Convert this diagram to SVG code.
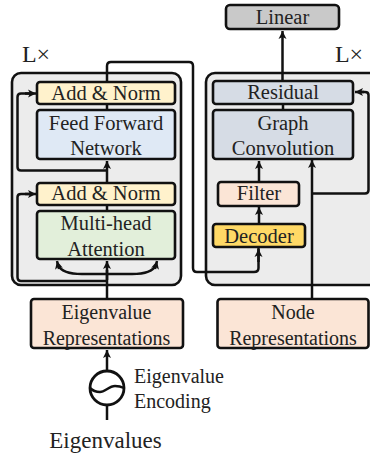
<svg xmlns="http://www.w3.org/2000/svg" width="370" height="453" viewBox="0 0 370 453">
<style>
text{font-family:"Liberation Serif","Times New Roman",serif;font-size:20.500px;fill:#222;text-anchor:middle}
.b{stroke:#111;stroke-width:2.6px}
.c{fill:none;stroke:#111;stroke-width:2.500px;stroke-linejoin:round}
.a{marker-end:url(#h)}
.y{fill:#fff2cc}.bl{fill:#dfe9f5}.g{fill:#e2efda}.p{fill:#fbe5d6}.s{fill:#d6dce5}
.t{text-anchor:start;font-size:20px}.l{font-size:24px}
</style>
<defs><marker id="h" markerUnits="userSpaceOnUse" markerWidth="10" markerHeight="10" refX="8" refY="5" orient="auto"><path d="M0 1L8 5L0 9L2 5Z" fill="#111"/></marker></defs>
<g id="frame-left"><rect x="12" y="73" width="169" height="212" rx="9" fill="#ececec" class="b"/></g>
<g id="frame-right"><rect x="206" y="73" width="176" height="212" rx="9" fill="#ececec" class="b"/></g>
<g id="connectors">
<path class="c" d="M107 82V66Q107 62 111 62H189Q193 62 193 66V268Q193 272 197 272H254Q258.500 272 258.500 268V248"/>
<path class="c a" d="M258.500 262V249"/>
<path class="c a" d="M107 183V161"/>
<path class="c" d="M107 170.500H21Q17.500 170.500 17.500 167V97Q17.500 93.500 21 93.500H30"/>
<path class="c a" d="M25 93.500H36"/>
<path class="c" d="M107 204V211"/>
<path class="c" d="M107 104V110"/>
<path class="c" d="M107 299V270"/>
<path class="c a" d="M107 280V261"/>
<path class="c" d="M107 281H21Q17.500 281 17.500 277V197Q17.500 194 21 194H30"/>
<path class="c a" d="M25 194H36"/>
<path class="c" d="M58 265Q62 274 82 274H132Q152 274 156 265"/>
<path class="c a" d="M59 269L57 261"/>
<path class="c a" d="M155 269L157 261"/>
<path class="c a" d="M282.500 81V31"/>
<path class="c" d="M283 104V110"/>
<path class="c a" d="M259 182V161"/>
<path class="c a" d="M259 223V207"/>
<path class="c a" d="M312 299V160"/>
<path class="c" d="M312 193.500H365Q368.500 193.500 368.500 190V95Q368.500 92 365 92H360"/>
<path class="c a" d="M364 92H355"/>
<path class="c a" d="M107 371V350"/>
<path class="c" d="M107 405V420"/>
</g>
<g id="linear"><rect x="226" y="5" width="113" height="24" rx="4" fill="#c9c9c9" class="b"/><text x="282.500" y="24">Linear</text></g>
<g id="add-norm-top"><rect x="37" y="82" width="138" height="22" rx="3" class="b y"/><text x="106" y="100">Add &amp; Norm</text></g>
<g id="feed-forward"><rect x="37" y="110" width="138" height="49" rx="3" class="b bl"/><text x="106" y="130">Feed Forward</text><text x="106" y="155">Network</text></g>
<g id="add-norm-bottom"><rect x="37" y="183" width="138" height="22" rx="3" class="b y"/><text x="106" y="200">Add &amp; Norm</text></g>
<g id="attention"><rect x="37" y="211" width="138" height="48" rx="3" class="b g"/><text x="106" y="230">Multi-head</text><text x="106" y="256">Attention</text></g>
<g id="residual"><rect x="213" y="81" width="140" height="23" rx="3" class="b s"/><text x="283" y="99">Residual</text></g>
<g id="graph-conv"><rect x="213" y="110" width="140" height="49" rx="3" class="b s"/><text x="283" y="130">Graph</text><text x="283" y="155">Convolution</text></g>
<g id="filter"><rect x="218" y="182" width="81" height="24" rx="3" class="b p"/><text x="259" y="200">Filter</text></g>
<g id="decoder"><rect x="213" y="224" width="92" height="23" rx="3" fill="#ffd966" class="b"/><text x="259" y="243">Decoder</text></g>
<g id="eigen-repr"><rect x="31" y="299" width="152" height="49" rx="3" class="b p"/><text x="106.500" y="319" style="font-size:20px">Eigenvalue</text><text x="106.500" y="345" style="font-size:20px">Representations</text></g>
<g id="node-repr"><rect x="217.500" y="299" width="151" height="49" rx="3" class="b p"/><text x="293" y="319" style="font-size:20px">Node</text><text x="293" y="345" style="font-size:20px">Representations</text></g>
<g id="encoding"><circle cx="107" cy="388" r="17" fill="#fff" stroke="#111" stroke-width="2.8"/><path class="c" d="M90 388Q94 392 100 392C105 392 109 386 115 386Q120 386 124 388"/><text class="t" x="134" y="383">Eigenvalue</text><text class="t" x="134" y="408">Encoding</text></g>
<g id="labels"><text class="l" x="105.500" y="448" style="font-size:23px">Eigenvalues</text><text class="l" x="36" y="62">L×</text><text class="l" x="349" y="62">L×</text></g>
</svg>
